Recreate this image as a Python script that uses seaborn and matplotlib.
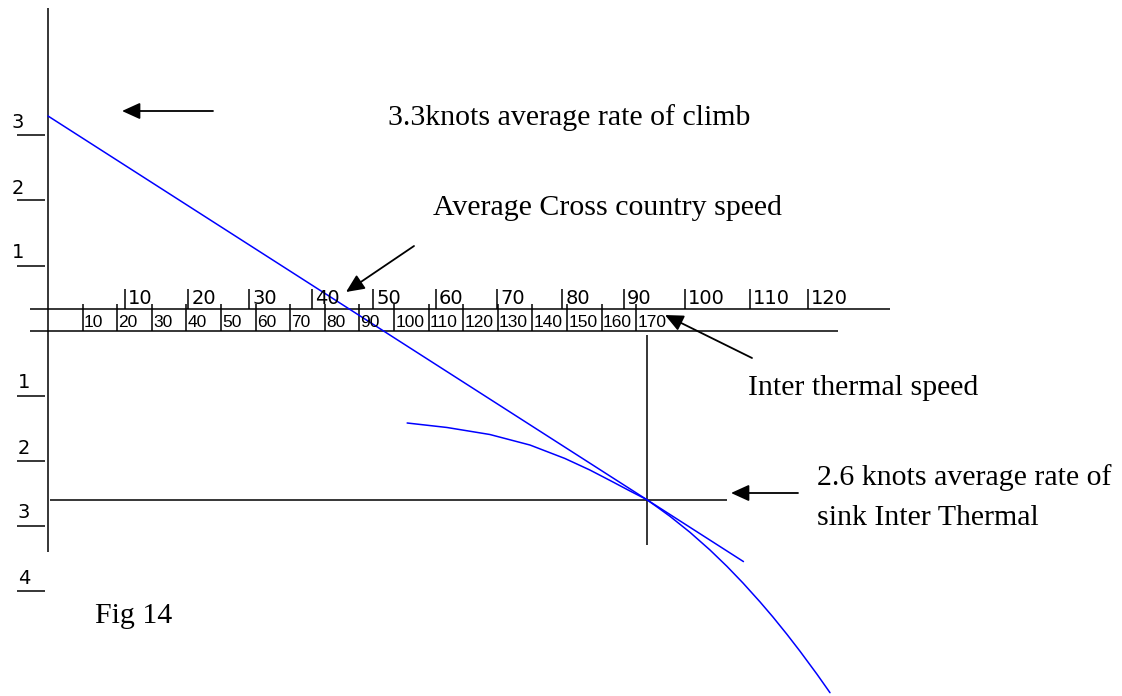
import matplotlib
matplotlib.use("Agg")
import matplotlib.pyplot as plt
import seaborn as sns
import numpy as np
import pandas as pd

# ---------------- data ----------------
climb_rate = 3.3            # knots average rate of climb
tangent_speed = 173         # inter-thermal speed at tangent point
tangent_sink = -2.6         # knots sink at tangent point
line_end_speed = 201        # where the tangent line stops

polar_speed = [103.8, 115.3, 127.7, 139.3, 149.4, 156.6, 163.3, 168.2, 173.0,
               176.30, 179.77, 185.55, 191.33, 196.24, 200.87, 205.78, 209.54,
               213.58, 217.34, 222.25, 226.01]
polar_sink = [-1.423, -1.492, -1.600, -1.762, -1.969, -2.146, -2.331, -2.469, -2.600,
              -2.725, -2.859, -3.105, -3.377, -3.629, -3.885, -4.175, -4.409,
              -4.675, -4.934, -5.288, -5.572]

climb_ticks = [3, 2, 1]
sink_ticks = [1, 2, 3, 4]

inter_thermal_ticks = [10, 20, 30, 40, 50, 60, 70, 80, 90, 100, 110, 120, 130, 140, 150, 160, 170]
cross_country_labels = [10, 20, 30, 40, 50, 60, 70, 80, 90, 100, 110, 120]
cross_country_at_speed = [22.3, 40.5, 58.1, 76.3, 93.9, 112.1, 129.8, 148.6, 166.5, 184.1, 202.9, 219.7]

# ---------------- layout helpers (pixel layout -> data) ----------------
def X(px):
    return (px - 48) / 3.46

def Y(py):
    return (330.5 - py) / 65.0

sns.set_theme(style="white")
plt.rcParams['font.family'] = ['DejaVu Sans']
plt.rcParams['text.color'] = 'black'

fig = plt.figure(figsize=(11.22, 6.96), dpi=100)
ax = fig.add_axes([0, 0, 1, 1])

blk = dict(color="black", lw=1.1, solid_capstyle="butt")
blue = "#0000ff"
sans = dict(fontsize=14, family=["DejaVu Sans"], color="black")

# main vertical axis
ax.plot([0, 0], [Y(8), Y(552)], **blk)

# y tick marks and labels
for v in climb_ticks:
    ax.plot([X(17), X(45)], [v, v], **blk)
    ax.text(X(24), v + 3 / 65, str(v), ha="right", va="bottom", **sans)
for v in sink_ticks:
    ax.plot([X(17), X(45)], [-v, -v], **blk)
    ax.text(X(18), -v + 3 / 65, str(v), ha="left", va="bottom", **sans)

# speed scale band
band_top = Y(309)
ax.plot([X(30), X(890)], [band_top, band_top], **blk)
ax.plot([X(30), X(838)], [0, 0], **blk)

for s in inter_thermal_ticks:
    ax.plot([s, s], [Y(304), 0], **blk)
    ax.text(s + 0.35, 0.015, str(s), ha="left", va="bottom", fontsize=12.5,
            family=["Liberation Sans", "DejaVu Sans"], color="black")

for lab, s in zip(cross_country_labels, cross_country_at_speed):
    ax.plot([s, s], [band_top, Y(289)], **blk)
    ax.text(s + 0.9, band_top + 0.02, str(lab), ha="left", va="bottom", **sans)

# tangent construction
ax.plot([X(50), X(727)], [tangent_sink, tangent_sink], **blk)
ax.plot([tangent_speed, tangent_speed], [Y(335), Y(545)], **blk)

slope = (tangent_sink - climb_rate) / tangent_speed
tl = pd.DataFrame({"speed": [0, line_end_speed],
                   "rate": [climb_rate, climb_rate + slope * line_end_speed]})
sns.lineplot(data=tl, x="speed", y="rate", ax=ax, color=blue, lw=1.1,
             sort=False, estimator=None)

polar = pd.DataFrame({"speed": polar_speed, "sink": polar_sink})
sns.lineplot(data=polar, x="speed", y="sink", ax=ax, color=blue, lw=1.1,
             sort=False, estimator=None)
ax.set_xlim(X(0), X(1122))
ax.set_ylim(Y(696), Y(0))
ax.axis("off")

# arrows
arrow = dict(arrowstyle="-|>,head_length=0.55,head_width=0.25", color="black",
             lw=1.3, mutation_scale=20, shrinkA=0, shrinkB=0)
for tail, tip in [((213, 111), (122, 111)),
                  ((414, 246), (346, 292)),
                  ((752, 358), (665, 315)),
                  ((798, 493), (731, 493))]:
    ax.annotate("", xy=(X(tip[0]), Y(tip[1])), xytext=(X(tail[0]), Y(tail[1])),
                arrowprops=arrow)

# texts
serif = dict(family=["Liberation Serif", "DejaVu Serif"], fontsize=21.5,
             ha="left", va="baseline", color="black")
ax.text(X(388), Y(125), "3.3knots average rate of climb", **serif)
ax.text(X(433), Y(215), "Average Cross country speed", **serif)
ax.text(X(748), Y(395), "Inter thermal speed", **serif)
ax.text(X(817), Y(485), "2.6 knots average rate of", **serif)
ax.text(X(817), Y(525), "sink Inter Thermal", **serif)
ax.text(X(95), Y(623), "Fig 14", **serif)

fig.savefig("out.png", dpi=100, facecolor="white")
